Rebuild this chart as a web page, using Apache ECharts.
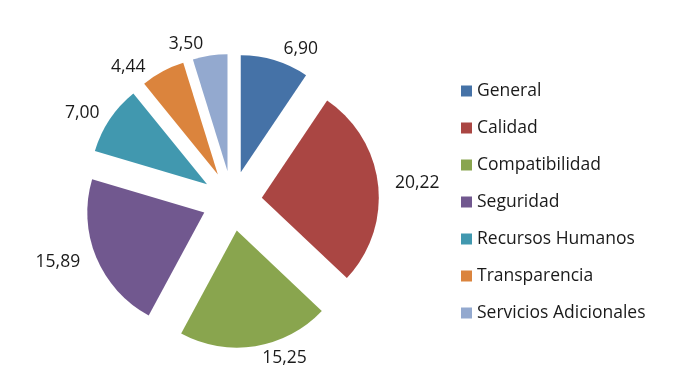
<!DOCTYPE html>
<html>
<head>
<meta charset="utf-8">
<script src="https://cdn.jsdelivr.net/npm/echarts@6/dist/echarts.min.js"></script>
<style>
  html, body { margin: 0; padding: 0; background: #fff; }
  #chart { width: 674px; height: 389px; }
</style>
</head>
<body>
<div id="chart"></div>
<script>
const categories = ["General", "Calidad", "Compatibilidad", "Seguridad", "Recursos Humanos", "Transparencia", "Servicios Adicionales"];
const values = [6.90, 20.22, 15.25, 15.89, 7.00, 4.44, 3.50];
const colors = ["#4572A7", "#AA4643", "#89A54E", "#71588F", "#4198AF", "#DB843D", "#93A9CF"];

const fontFamily = "'Open Sans', sans-serif";
const fontSize = 17.5;
const chart = echarts.init(document.getElementById("chart"));

chart.setOption({
  animation: false,
  color: colors,
  legend: {
    orient: "vertical",
    left: 456,
    top: 77,
    itemWidth: 11,
    itemHeight: 11,
    itemGap: 19,
    icon: "rect",
    textStyle: { fontFamily, fontSize, lineHeight: 18, color: "#1a1a1a" },
    data: categories,
  },
  series: [
    {
      type: "pie",
      center: [232, 201],
      radius: [0, 117],
      startAngle: 90,
      clockwise: true,
      selectedMode: "multiple",
      selectedOffset: 30,
      emphasis: { disabled: true },
      label: {
        show: true,
        position: "outside",
        fontFamily,
        fontSize,
        color: "#1a1a1a",
        formatter: (p) => p.value.toFixed(2).replace(".", ","),
      },
      labelLine: { show: false, length: 12, length2: 0 },
      data: categories.map((name, i) => ({ name, value: values[i], selected: true })),
    },
  ],
});
</script>
</body>
</html>
